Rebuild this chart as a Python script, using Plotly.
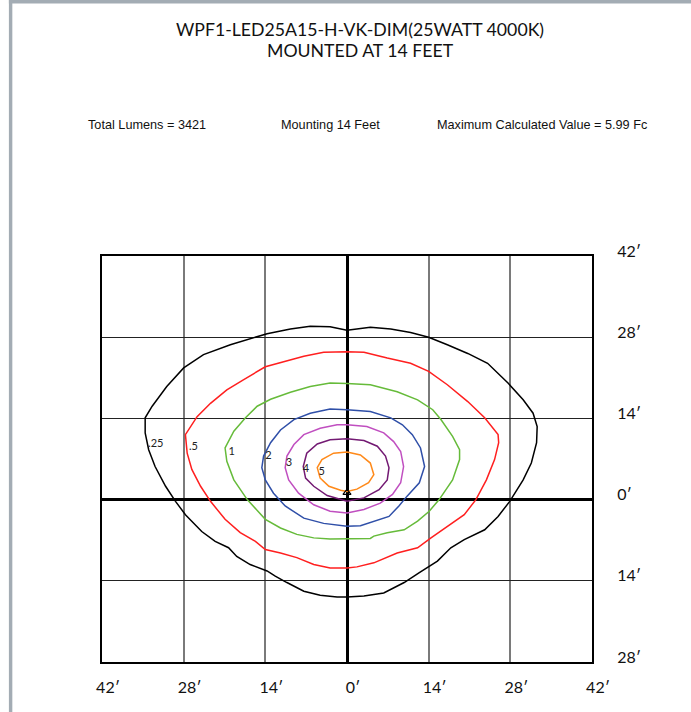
import plotly.graph_objects as go

# ---------------- data (feet) ----------------
levels = [".25", ".5", "1", "2", "3", "4", "5"]
colors = ["#000000", "#ff1f1f", "#66bb3a", "#2f4fa8", "#c04fc0", "#731a73", "#ff8a1a"]

x_025 = [0, -2.9, -6.3, -9.7, -13.7, -15.4, -20, -24.6, -28, -30.9, -33.4, -34.6, -34.6, -34, -32.9, -31.1, -29.4,
         -27.7, -24.9, -22.6, -20.3, -18.9, -16.6, -13.7, -12.3, -10.3, -7.4, -4.6, -1.7, 0, 2.9, 6.3, 9.8, 12.4,
         15.5, 17.8, 20.1, 23.6, 25.9, 27.9, 30.2, 31.6, 32.5, 32.6, 31.9, 30.2, 27.6, 24.1, 20.7, 17.2, 14, 10.9,
         7.5, 4.0, 0]
y_025 = [29.2, 29.8, 29.9, 29.4, 28.6, 28.1, 26.7, 25, 22.7, 19.5, 16.1, 14.1, 11.5, 8.6, 5.7, 2.3, -0.3, -2.6,
         -5.5, -7.2, -8.3, -9.8, -11.2, -12.3, -13.2, -14.3, -15.8, -16.5, -16.8, -16.8, -16.6, -16.1, -14.3,
         -12.6, -10.6, -8.3, -6.9, -5.2, -2.9, -0.3, 3.4, 6.3, 9.8, 12.6, 14.9, 17.2, 20.1, 23.5, 25.2, 26.7, 28,
         28.8, 29.4, 29.7, 29.2]

x_05 = [0, -4, -7.4, -10.9, -14, -17.7, -20.6, -23.4, -25.7, -27.7, -27.4, -26.6, -25.1, -23.4, -20.9, -18.3,
        -15.7, -14, -11.4, -8.6, -5.7, -2.9, 0, 1.7, 4.6, 8.6, 12.1, 14.4, 17.2, 20.1, 22.1, 23.9, 25.3, 26, 25.9,
        23.6, 20.7, 17.2, 14, 10.9, 6.9, 2.9, 0]
y_05 = [25.5, 25.4, 24.7, 23.8, 22.9, 20.7, 18.9, 16.6, 14.3, 11.2, 8, 5.2, 2.3, -0.3, -3.4, -5.7, -7.2, -8.6,
        -9.2, -10, -11.2, -11.8, -11.8, -11.6, -10.9, -9.2, -8.3, -6.6, -4.6, -2.6, 0, 3.4, 6.9, 9.8, 11.2, 14.1,
        16.9, 19.8, 22.1, 23.5, 24.4, 25.4, 25.5]

x_1 = [0, -2.9, -6.3, -9.7, -13.1, -15.4, -17.4, -19.4, -20.9, -20.6, -19.4, -17.1, -14, -11.4, -8.6, -5.7, -2.9,
       0, 4, 4.6, 6.9, 9.8, 12.1, 14.1, 15.8, 18.1, 19.3, 19.3, 18.1, 16.1, 14.7, 12.1, 8.6, 4, 0]
y_1 = [20, 20.1, 19.5, 18.5, 17.3, 16.1, 14.1, 11.8, 8.9, 6.6, 3.4, 0, -3.4, -4.9, -6, -6.6, -6.8, -6.8, -6.7,
       -6.3, -5.7, -5.2, -3.7, -2, 0, 3.4, 6.9, 8.6, 10.9, 13.8, 15.5, 17.2, 18.6, 19.8, 20]

x_2 = [0, -2.9, -6.3, -9.1, -11.4, -13.1, -14.3, -14.6, -14, -12.6, -10.6, -7.4, -4, 0, 2.3, 4.6, 7.2, 8.9, 10.3,
       12.4, 13.3, 12.6, 11.2, 9.5, 7.5, 4, 0]
y_2 = [15.5, 15.6, 14.9, 13.8, 12, 9.8, 7.5, 5.5, 3.4, 1.1, -1.1, -3.2, -4.1, -4.6, -4.5, -3.7, -2.9, -1.1, 0.6,
       2.9, 5.7, 8.9, 11.2, 12.9, 14.1, 15.2, 15.5]

x_3 = [0, -1.7, -4.6, -7.4, -9.1, -10.3, -10.6, -10, -8.3, -5.7, -2.9, 0, 2.9, 5.7, 7.8, 9.2, 9.7, 9.2, 8, 6.3,
       3.4, 0]
y_3 = [12.9, 12.9, 12.3, 11.2, 9.5, 7.5, 5.5, 3.4, 1.1, -0.9, -2, -2.3, -1.7, -0.6, 0.9, 2.9, 5.7, 8.3, 10, 11.5,
       12.6, 12.9]

x_4 = [0, -2.9, -5.1, -6.9, -7.5, -7.1, -5.7, -3.4, 0, 2.9, 5.5, 6.9, 7.2, 6.6, 5.2, 2.9, 0]
y_4 = [10.5, 10.3, 9.6, 8, 5.7, 3.7, 2.3, 0.7, -0.3, 0.3, 1.7, 3.4, 5.5, 7.5, 9.2, 10.2, 10.5]

x_5 = [0, -2.3, -4.3, -5.1, -4.6, -3.1, -1.1, 0, 1.7, 3.7, 4.6, 4, 2.3, 0]
y_5 = [8.2, 8, 6.9, 5.5, 3.7, 2.3, 1.6, 1.4, 1.8, 2.9, 4.3, 6.3, 7.7, 8.2]

contour_x = [x_025, x_05, x_1, x_2, x_3, x_4, x_5]
contour_y = [y_025, y_05, y_1, y_2, y_3, y_4, y_5]

# contour label positions (feet, left edge of label)
label_x = [-34.1, -27.1, -20.3, -14.0, -10.5, -7.6, -4.9]
label_y = [9.5, 9.0, 8.1, 7.4, 6.2, 5.2, 4.7]

fixture_x = [0]
fixture_y = [1.2]

tick_vals_x = [-42, -28, -14, 0, 14, 28, 42]
tick_text_x = ["42′", "28′", "14′", "0′", "14′", "28′", "42′"]
tick_vals_y = [-28, -14, 0, 14, 28, 42]
tick_text_y = ["28′", "14′", "0′", "14′", "28′", "42′"]

title_lines = ["WPF1-LED25A15-H-VK-DIM(25WATT 4000K)", "MOUNTED AT 14 FEET"]
info_texts = ["Total Lumens = 3421", "Mounting 14 Feet", "Maximum Calculated Value = 5.99 Fc"]

# ---------------- figure ----------------
fig = go.Figure()
for lv, cx, cy, col in zip(levels, contour_x, contour_y, colors):
    fig.add_trace(go.Scatter(x=cx, y=cy, mode="lines", line=dict(color=col, width=1.5),
                             hoverinfo="skip", showlegend=False, name=lv))

fig.add_trace(go.Scatter(x=label_x, y=label_y, mode="text", text=levels, textposition="middle right",
                         textfont=dict(family="Lato", size=11, color="#222"), showlegend=False, hoverinfo="skip"))

fig.add_trace(go.Scatter(x=fixture_x, y=fixture_y, mode="markers",
                         marker=dict(symbol="triangle-up-open", size=7, color="black", line=dict(width=1.2)),
                         showlegend=False, hoverinfo="skip"))

fig.update_xaxes(range=[-42, 42], tickvals=tick_vals_x, ticktext=tick_text_x, showgrid=True,
                 gridcolor="#7a7a7a", gridwidth=1.5, zeroline=True, zerolinecolor="black", zerolinewidth=2.5,
                 showline=True, mirror=True, linecolor="black", linewidth=2, ticks="",
                 tickfont=dict(family="Lato", size=16, color="#111"), ticklabelstandoff=10, ticklabelshift=6,
                 fixedrange=True)
fig.update_yaxes(range=[-28, 42], tickvals=tick_vals_y, ticktext=tick_text_y, side="right", showgrid=True,
                 gridcolor="#222", gridwidth=1, zeroline=True, zerolinecolor="black", zerolinewidth=2.5,
                 showline=True, mirror=True, linecolor="black", linewidth=2, ticks="",
                 tickfont=dict(family="Lato", size=16, color="#111"), ticklabelstandoff=20, ticklabelshift=-5,
                 fixedrange=True)

annotations = []
for i, t in enumerate(title_lines):
    annotations.append(dict(text=t, x=0.527, y=[1.557, 1.507][i], xref="paper", yref="paper",
                            xanchor="center", yanchor="middle", showarrow=False,
                            font=dict(family="Lato", size=17.7, color="#111")))
info_pos = [(-0.033, "left"), (0.466, "center"), (1.118, "right")]
for t, (px, anc) in zip(info_texts, info_pos):
    annotations.append(dict(text=t, x=px, y=1.323, xref="paper", yref="paper", xanchor=anc,
                            yanchor="middle", showarrow=False,
                            font=dict(family="Liberation Sans", size=12.7, color="#111")))

shapes = [
    dict(type="rect", xref="paper", yref="paper", x0=-0.19, x1=-0.183, y0=-0.2, y1=1.64,
         line=dict(width=0), fillcolor="#a3acb4"),
    dict(type="rect", xref="paper", yref="paper", x0=-0.19, x1=1.3, y0=1.622, y1=1.64,
         line=dict(width=0), fillcolor="#a3acb4", layer="above"),
]

fig.update_layout(width=691, height=712, margin=dict(l=102, r=99, t=256, b=50),
                  paper_bgcolor="white", plot_bgcolor="white", annotations=annotations, shapes=shapes,
                  showlegend=False)

fig.write_html("out.html", config={"displayModeBar": False},
               post_script="document.body.style.margin='0';document.body.style.overflow='hidden';")
